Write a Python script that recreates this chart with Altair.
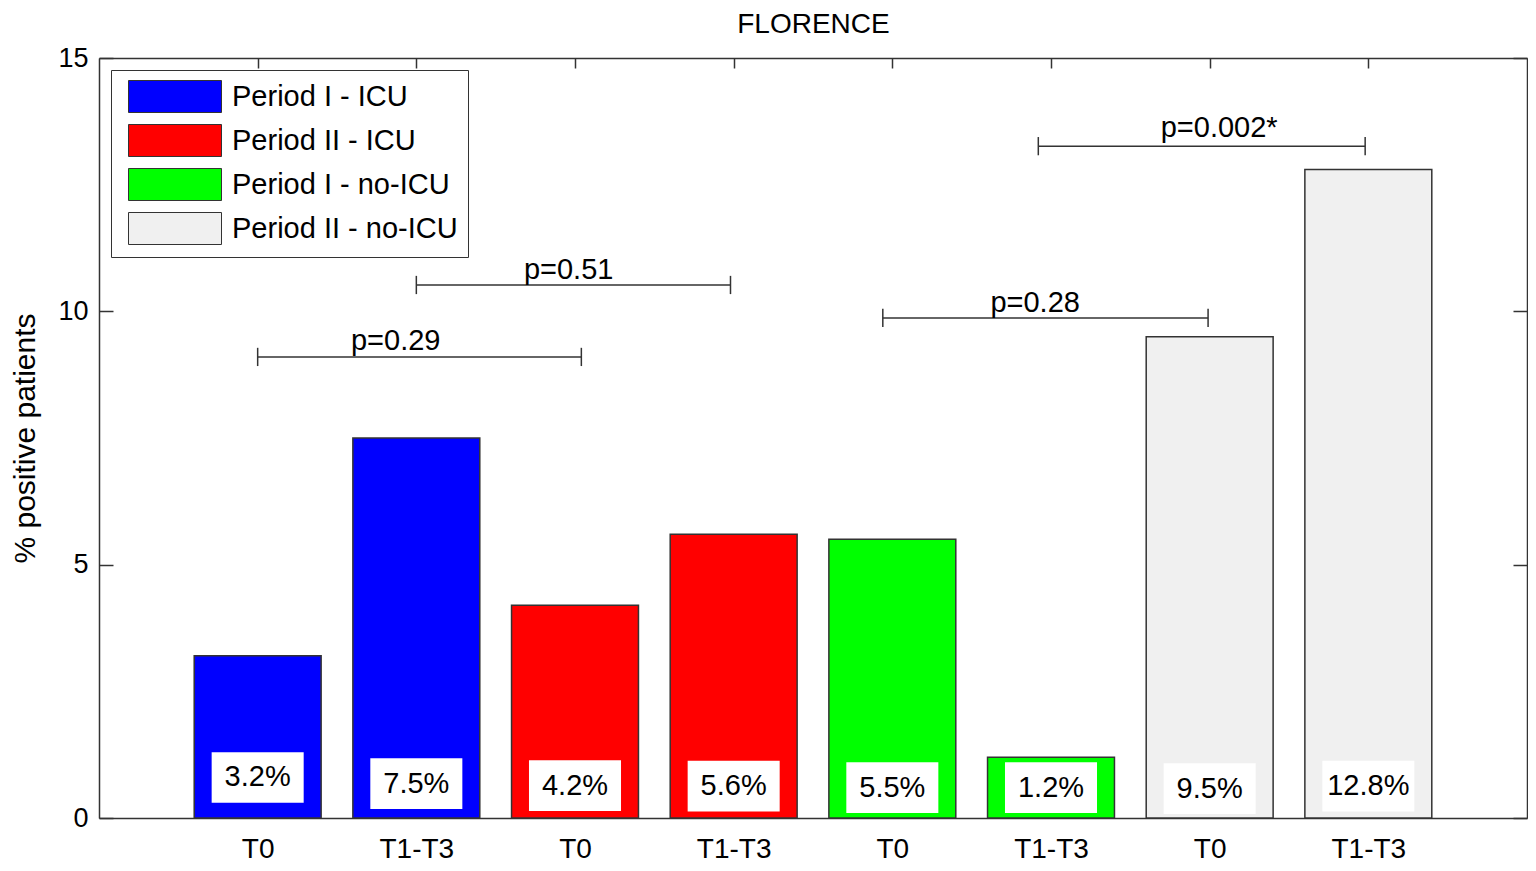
import altair as alt
import pandas as pd

# ---------------- data ----------------
chart_title = "FLORENCE"
categories = ["T0", "T1-T3", "T0", "T1-T3", "T0", "T1-T3", "T0", "T1-T3"]
groups = ["Period I - ICU", "Period I - ICU", "Period II - ICU", "Period II - ICU",
          "Period I - no-ICU", "Period I - no-ICU", "Period II - no-ICU", "Period II - no-ICU"]
values = [3.2, 7.5, 4.2, 5.6, 5.5, 1.2, 9.5, 12.8]
value_labels = ["3.2%", "7.5%", "4.2%", "5.6%", "5.5%", "1.2%", "9.5%", "12.8%"]
label_y = [0.80, 0.68, 0.64, 0.63, 0.60, 0.60, 0.58, 0.63]   # centre of the white label boxes (data units)

legend_order = ["Period I - ICU", "Period II - ICU", "Period I - no-ICU", "Period II - no-ICU"]
legend_colors = ["#0000ff", "#ff0000", "#00ff00", "#f0f0f0"]

p_labels = ["p=0.29", "p=0.51", "p=0.28", "p=0.002*"]
bracket_x1 = [1.0, 2.0, 4.94, 5.92]
bracket_x2 = [3.04, 3.98, 6.99, 7.98]
bracket_y = [9.10, 10.52, 9.87, 13.26]
p_label_x = [1.87, 2.96, 5.90, 7.06]
p_label_y = [9.24, 10.64, 9.99, 13.44]

y_ticks = [0, 5, 10, 15]
positions = list(range(1, 9))

# ---------------- tables ----------------
bars = pd.DataFrame({
    "pos": positions, "cat": categories, "group": groups,
    "value": values, "label": value_labels, "ly": label_y,
})
brackets = pd.DataFrame({
    "x1": bracket_x1, "x2": bracket_x2, "y": bracket_y,
    "px": p_label_x, "py": p_label_y, "p": p_labels,
})

FONT = "Liberation Sans"
INK = "#333333"
W, H = 1428, 760
xscale = alt.Scale(domain=[0, 9], nice=False, zero=False)
yscale = alt.Scale(domain=[0, 15], nice=False, zero=False)

label_expr = "[" + ",".join("'%s'" % c for c in categories) + "][datum.value - 1]"

base = alt.Chart(bars)

bar_layer = base.transform_calculate(
    x0="datum.pos - 0.4", x1="datum.pos + 0.4"
).mark_rect(stroke=INK, strokeWidth=1.5).encode(
    x=alt.X("x0:Q", scale=xscale, axis=alt.Axis(
        orient="bottom", values=positions, labelExpr=label_expr, domain=True,
        domainColor=INK, domainWidth=1.5,
        ticks=False, tickSize=0, grid=False, labelPadding=39,
        labelBaseline="alphabetic", labelFontSize=28,
        labelFont=FONT, labelColor="black", labelOverlap=False, labelFlush=False,
        title=None)),
    x2="x1:Q",
    y=alt.Y("value:Q", scale=yscale, axis=alt.Axis(
        orient="left", values=y_ticks, domain=True, domainColor=INK, domainWidth=1.5,
        ticks=False, tickSize=0,
        grid=False, labelPadding=11, labelFontSize=27, labelFont=FONT,
        labelColor="black", labelFlush=False,
        title="% positive patients", titleFontSize=30, titleFontWeight="normal",
        titleFont=FONT, titleColor="black", titleX=-59, titleY=H / 2,
        titleAngle=270, titleBaseline="bottom", titleAlign="center")),
    y2=alt.datum(0),
    color=alt.Color("group:N", scale=alt.Scale(domain=legend_order, range=legend_colors),
                    legend=alt.Legend(
                        title=None, orient="none", legendX=12, legendY=12,
                        symbolType="M-0.5625,-1H5.25V1H-0.5625Z", symbolSize=1024,
                        symbolStrokeColor=INK, symbolStrokeWidth=1,
                        labelFontSize=29, labelFont=FONT, labelColor="black",
                        labelOffset=78, labelLimit=0, padding=10, rowPadding=7,
                        strokeColor=INK, fillColor="white")),
)

# frame on the top and right sides; the top axis also carries the chart title
frame = base.mark_point(opacity=0).encode(
    x=alt.X("pos:Q", scale=xscale, axis=alt.Axis(
        orient="top", values=positions, domain=True, domainColor=INK, domainWidth=1.5,
        ticks=False, labels=False, grid=False, minExtent=0, maxExtent=0,
        title=chart_title, titleFontSize=28, titleFontWeight="normal", titleFont=FONT,
        titleColor="black", titleX=W / 2, titleY=-26, titleBaseline="alphabetic",
        titleAlign="center")),
    y=alt.Y("value:Q", scale=yscale, axis=alt.Axis(
        orient="right", values=y_ticks, domain=True, domainColor=INK, domainWidth=1.5,
        ticks=False, labels=False, grid=False, title=None, minExtent=0, maxExtent=0)),
)

# inward tick marks drawn through extra axes on the shared scales
ticks_a = base.mark_point(opacity=0).encode(
    x=alt.X("pos:Q", scale=xscale, axis=alt.Axis(
        orient="top", values=positions, offset=-10, tickSize=10, tickColor=INK,
        tickWidth=1.5, labels=False, domain=False, grid=False, title=None,
        minExtent=0, maxExtent=0)),
    y=alt.Y("value:Q", scale=yscale, axis=alt.Axis(
        orient="right", values=y_ticks, offset=-14, tickSize=14, tickColor=INK,
        tickWidth=1.5, labels=False, domain=False, grid=False, title=None,
        minExtent=0, maxExtent=0)),
)
ticks_b = base.mark_point(opacity=0).encode(
    x=alt.X("pos:Q", scale=xscale, axis=None),
    y=alt.Y("value:Q", scale=yscale, axis=alt.Axis(
        orient="left", values=y_ticks, offset=-14, tickSize=14, tickColor=INK,
        tickWidth=1.5, labels=False, domain=False, grid=False, title=None)),
)

label_boxes = base.transform_calculate(
    bx0="datum.pos - 0.29", bx1="datum.pos + 0.29",
    by0="datum.ly - 0.5", by1="datum.ly + 0.5",
).mark_rect(fill="white").encode(
    x=alt.X("bx0:Q", scale=xscale, axis=None), x2="bx1:Q",
    y=alt.Y("by0:Q", scale=yscale, axis=None), y2="by1:Q",
)
label_text = base.mark_text(fontSize=29, font=FONT, color="black", baseline="middle",
                            align="center").encode(
    x=alt.X("pos:Q", scale=xscale, axis=None),
    y=alt.Y("ly:Q", scale=yscale, axis=None),
    text="label:N",
)

bchart = alt.Chart(brackets)
bracket_lines = bchart.mark_rule(stroke=INK, strokeWidth=1.5).encode(
    x=alt.X("x1:Q", scale=xscale, axis=None), x2="x2:Q",
    y=alt.Y("y:Q", scale=yscale, axis=None),
)
bracket_ends = bchart.transform_fold(["x1", "x2"], as_=["end", "xe"]).transform_calculate(
    ya="datum.y - 0.18", yb="datum.y + 0.18"
).mark_rule(stroke=INK, strokeWidth=1.5).encode(
    x=alt.X("xe:Q", scale=xscale, axis=None),
    y=alt.Y("ya:Q", scale=yscale, axis=None), y2="yb:Q",
)
p_text = bchart.mark_text(fontSize=29, font=FONT, color="black", baseline="alphabetic",
                          align="center").encode(
    x=alt.X("px:Q", scale=xscale, axis=None),
    y=alt.Y("py:Q", scale=yscale, axis=None),
    text="p:N",
)

chart = alt.layer(
    bar_layer, frame, ticks_a, ticks_b, label_boxes, label_text,
    bracket_lines, bracket_ends, p_text,
).resolve_axis(x="independent", y="independent").properties(
    width=W, height=H,
    autosize=alt.AutoSizeParams(type="none"),
    padding={"left": 91, "top": 50, "right": 1, "bottom": 45},
).configure_view(stroke=INK, strokeWidth=1.5).configure(font=FONT, background="white")

chart.save("out.html", embed_options={"renderer": "svg", "actions": False})
